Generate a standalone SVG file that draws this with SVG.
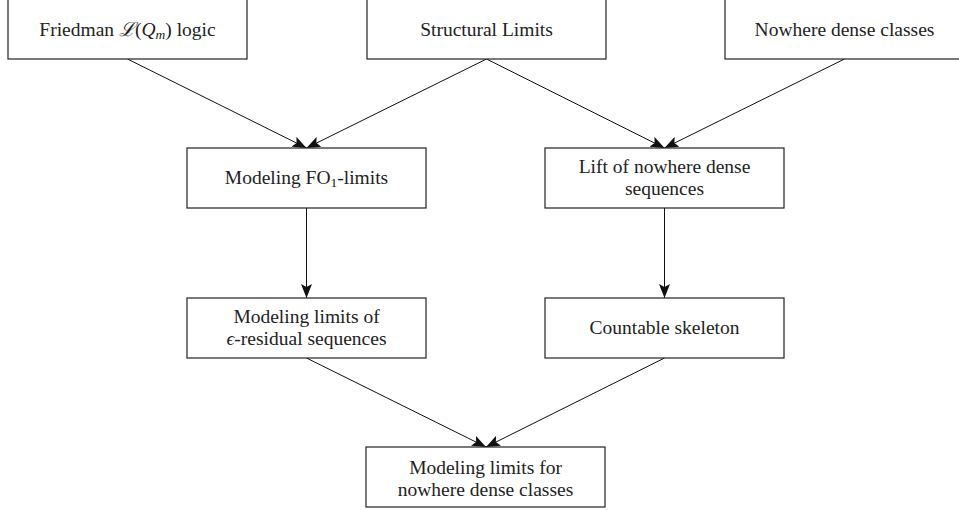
<svg xmlns="http://www.w3.org/2000/svg" width="959" height="510" viewBox="0 0 959 510">
<style>
.box{fill:#fff;stroke:#222;stroke-width:1.2}
.t{font-family:"Liberation Serif","DejaVu Serif",serif;font-size:19.5px;fill:#222;text-anchor:middle}
.it{font-style:italic}
.sub{font-size:13.5px}
.edge{stroke:#111;stroke-width:1;fill:none;marker-end:url(#ah)}
</style>
<defs>
<marker id="ah" markerUnits="userSpaceOnUse" markerWidth="14" markerHeight="12" refX="14" refY="6" orient="auto">
<path d="M0,0.5 L14,6 L0,11.5 L3,6 z" fill="#111"/>
</marker>
</defs>
<rect width="959" height="510" fill="#fff"/>
<g id="connectors">
<line class="edge" x1="127.5" y1="59" x2="306.5" y2="148"/>
<line class="edge" x1="486.5" y1="59" x2="306.5" y2="148"/>
<line class="edge" x1="486.5" y1="59" x2="664.5" y2="148"/>
<line class="edge" x1="844.5" y1="59" x2="664.5" y2="148"/>
<line class="edge" x1="306.5" y1="208" x2="306.5" y2="298"/>
<line class="edge" x1="664.5" y1="208" x2="664.5" y2="298"/>
<line class="edge" x1="306.5" y1="358" x2="486" y2="447"/>
<line class="edge" x1="664.5" y1="358" x2="486" y2="447"/>
</g>
<g id="friedman">
<rect class="box" x="8" y="-1" width="239" height="60"/>
<text class="t" x="127.5" y="36">Friedman <tspan class="it">ℒ</tspan>(<tspan class="it">Q</tspan><tspan class="it sub" dy="3">m</tspan><tspan dy="-3">) logic</tspan></text>
</g>
<g id="structural">
<rect class="box" x="367" y="-1" width="239" height="60"/>
<text class="t" x="486.5" y="36">Structural Limits</text>
</g>
<g id="nowhere">
<rect class="box" x="725" y="-1" width="239" height="60"/>
<text class="t" x="844.5" y="36">Nowhere dense classes</text>
</g>
<g id="fo1">
<rect class="box" x="187" y="148" width="239" height="60"/>
<text class="t" x="306.5" y="184">Modeling FO<tspan class="sub" dy="3">1</tspan><tspan dy="-3">-limits</tspan></text>
</g>
<g id="lift">
<rect class="box" x="545" y="148" width="239" height="60"/>
<text class="t" x="664.5" y="173">Lift of nowhere dense</text>
<text class="t" x="664.5" y="195">sequences</text>
</g>
<g id="residual">
<rect class="box" x="187" y="298" width="239" height="60"/>
<text class="t" x="306.5" y="323">Modeling limits of</text>
<text class="t" x="306.5" y="345"><tspan class="it">ϵ</tspan>-residual sequences</text>
</g>
<g id="skeleton">
<rect class="box" x="545" y="298" width="239" height="60"/>
<text class="t" x="664.5" y="334">Countable skeleton</text>
</g>
<g id="final">
<rect class="box" x="366" y="447" width="239" height="60"/>
<text class="t" x="485.5" y="474">Modeling limits for</text>
<text class="t" x="485.5" y="496">nowhere dense classes</text>
</g>
</svg>
